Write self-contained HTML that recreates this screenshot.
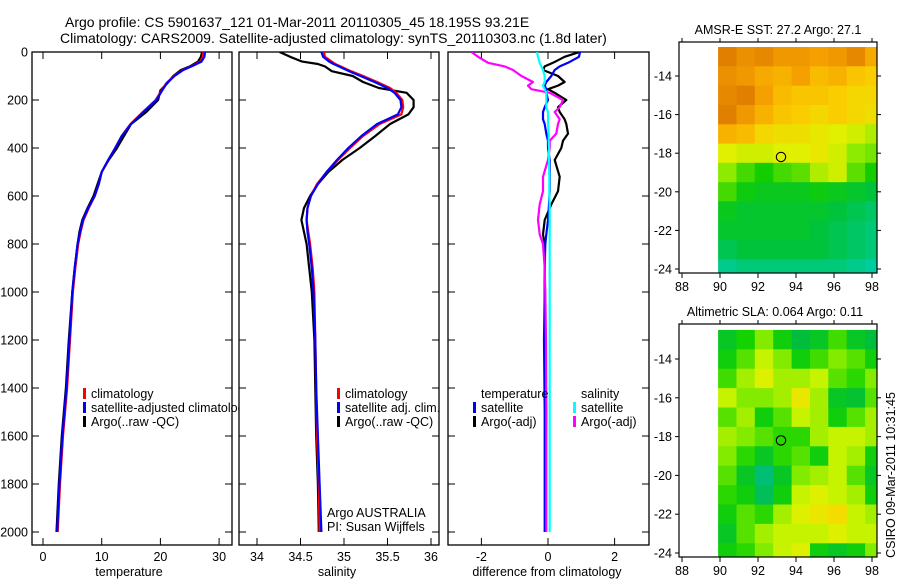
<!DOCTYPE html>
<html><head><meta charset="utf-8"><style>
html,body{margin:0;padding:0;background:#fff;}
svg{display:block;font-family:"Liberation Sans",sans-serif;}
</style></head><body>
<svg id="fig" width="900" height="580" viewBox="0 0 900 580" xmlns="http://www.w3.org/2000/svg">
<defs>
<clipPath id="c1"><rect x="32" y="52" width="207" height="493"/></clipPath>
<clipPath id="c2"><rect x="239" y="52" width="200" height="493"/></clipPath>
<clipPath id="c3"><rect x="448" y="52" width="201" height="493"/></clipPath>
<clipPath id="m1"><rect x="679" y="42" width="198" height="231"/></clipPath>
<clipPath id="m2"><rect x="679" y="324" width="198" height="233"/></clipPath>
</defs>
<text x="65" y="27" font-size="14">Argo profile: CS 5901637_121 01-Mar-2011 20110305_45 18.195S 93.21E</text>
<text x="60" y="43" font-size="14">Climatology: CARS2009. Satellite-adjusted climatology: synTS_20110303.nc (1.8d later)</text>
<text x="778" y="34" font-size="12.5" text-anchor="middle">AMSR-E SST: 27.2 Argo: 27.1</text>
<text x="775" y="316" font-size="12.5" text-anchor="middle">Altimetric SLA: 0.064 Argo: 0.11</text>
<text transform="translate(895,475) rotate(-90)" font-size="12.5" text-anchor="middle">CSIRO 09-Mar-2011 10:31:45</text>
<g id="layer"></g>
</svg>
<script>
// ---- profile data (pressure in dbar) ----
const tempP = [0,20,40,60,75,100,130,160,200,250,300,350,400,450,500,550,600,650,700,750,800,900,1000,1200,1400,1600,1800,2000];
const tempClim = [27.3,27.2,26.8,25.2,23.8,22.3,21.0,20.2,19.2,17.0,14.9,13.4,12.3,11.1,10.0,9.5,8.8,7.8,6.9,6.4,6.0,5.5,5.1,4.6,4.1,3.4,2.9,2.5];
const tempSat = [27.6,27.5,27.0,25.3,23.9,22.4,21.1,20.3,19.3,17.1,15.0,13.4,12.3,11.1,10.0,9.5,8.8,7.7,6.8,6.3,5.9,5.4,5.0,4.5,4.0,3.3,2.8,2.4];
const tempArgo = [27.1,26.9,26.4,25.0,23.5,22.2,21.2,20.0,19.6,17.6,15.0,13.8,12.6,11.2,10.0,9.3,8.6,7.6,6.7,6.2,5.9,5.4,5.0,4.4,3.9,3.2,2.7,2.3];
const salP = [0,20,40,50,60,80,100,125,150,170,200,230,260,300,350,400,450,500,550,600,650,700,750,800,900,1000,1200,1400,1600,1800,2000];
const salClim = [34.77,34.78,34.86,34.90,34.96,35.08,35.22,35.38,35.53,35.60,35.67,35.68,35.66,35.41,35.22,35.07,34.93,34.80,34.69,34.62,34.58,34.57,34.59,34.61,34.64,34.66,34.67,34.68,34.69,34.71,34.72];
const salSat = [34.74,34.76,34.83,34.88,34.94,35.06,35.19,35.35,35.50,35.58,35.65,35.66,35.62,35.38,35.20,35.05,34.92,34.80,34.70,34.62,34.58,34.57,34.58,34.60,34.63,34.65,34.67,34.68,34.70,34.72,34.74];
const salArgo = [34.26,34.38,34.52,34.70,34.78,34.86,35.10,35.22,35.40,35.72,35.80,35.80,35.74,35.53,35.36,35.18,34.98,34.82,34.70,34.61,34.54,34.51,34.54,34.57,34.60,34.63,34.66,34.67,34.68,34.70,34.71];
const difP = [0,20,45,60,75,100,125,140,155,170,200,230,250,280,300,340,370,400,450,520,580,635,700,760,800,900,1000,1200,1500,1800,2000];
const difTempSat = [0.96,0.93,0.60,0.35,0.20,0.10,-0.05,-0.10,-0.05,-0.05,0.0,-0.10,-0.15,-0.15,-0.10,-0.05,0.0,0.0,0.05,0.05,0.05,0.03,0.0,-0.05,-0.08,-0.10,-0.10,-0.12,-0.10,-0.10,-0.10];
const difTempArgo = [0.95,0.50,0.15,-0.10,-0.15,0.30,0.50,0.30,0.0,0.20,0.55,0.30,0.35,0.50,0.55,0.60,0.45,0.40,0.20,0.35,0.30,0.10,-0.10,-0.15,-0.10,-0.10,-0.10,-0.10,-0.05,-0.08,-0.08];
const difSalSat = [-0.33,-0.30,-0.25,-0.20,-0.15,-0.10,-0.10,-0.15,-0.10,-0.05,-0.05,-0.05,0.0,0.0,0.0,0.02,0.02,0.03,0.03,0.04,0.04,0.05,0.05,0.05,0.05,0.05,0.05,0.05,0.05,0.05,0.05];
const difSalArgo = [-2.30,-2.10,-1.80,-1.30,-1.05,-0.80,-0.45,-0.60,-0.50,0.05,0.45,0.35,0.20,0.35,0.30,0.25,0.05,0.05,0.0,-0.15,-0.15,-0.25,-0.30,-0.25,-0.15,-0.10,-0.08,-0.06,-0.05,-0.05,-0.05];
// ---- map data (9 cols lon 90.4..98.4, 12 rows lat -13..-24) ----
const sstGrid = [
[28.2,28.0,28.1,27.9,27.9,27.8,27.9,28.1,27.7],
[28.0,27.9,27.7,27.6,27.8,27.5,27.6,27.4,27.3],
[28.1,28.2,27.8,27.5,27.4,27.4,27.3,27.2,27.2],
[28.2,27.9,27.6,27.4,27.3,27.2,27.3,27.2,27.1],
[27.6,27.5,27.2,27.1,27.1,27.0,26.9,26.8,26.6],
[26.9,26.8,26.8,26.9,26.9,27.0,26.8,26.4,26.3],
[26.4,26.1,25.9,26.1,26.2,26.6,26.8,26.2,25.9],
[26.1,25.8,25.7,25.7,25.7,25.8,25.7,25.6,25.5],
[25.7,25.6,25.6,25.6,25.6,25.6,25.5,25.4,25.3],
[25.6,25.6,25.6,25.6,25.6,25.5,25.4,25.3,25.2],
[25.4,25.5,25.5,25.5,25.5,25.5,25.4,25.3,25.2],
[25.1,25.2,25.2,25.2,25.2,25.2,25.2,25.1,25.0]];
const slaGrid = [
[0.0,0.03,0.08,0.02,-0.02,0.0,0.05,0.0,-0.02],
[0.02,0.06,0.12,0.08,0.02,0.05,0.08,0.06,0.02],
[0.05,0.10,0.14,0.10,0.10,0.12,0.06,0.04,0.08],
[0.12,0.08,0.08,0.10,0.16,0.10,0.0,-0.01,0.06],
[0.06,0.10,0.02,0.06,0.12,0.10,0.02,0.06,0.10],
[0.10,0.08,0.06,0.04,0.04,0.10,0.12,0.12,0.10],
[0.08,0.04,0.0,0.04,0.06,0.02,0.12,0.10,0.02],
[0.06,0.0,-0.06,0.0,0.08,0.10,0.12,0.06,0.0],
[0.04,0.02,-0.04,0.02,0.12,0.14,0.12,0.10,0.02],
[0.02,0.06,0.04,0.10,0.14,0.16,0.18,0.12,0.10],
[0.0,0.06,0.10,0.12,0.12,0.12,0.14,0.12,0.12],
[0.02,0.04,0.08,0.12,0.14,0.02,0.0,0.02,0.08]];
const tempTicks = [0,10,20,30];
const salTicks = [34,34.5,35,35.5,36];
const difTicks = [-2,0,2];
const presTicks = [0,200,400,600,800,1000,1200,1400,1600,1800,2000];
const lonTicks = [88,90,92,94,96,98];
const latTicks = [-14,-16,-18,-20,-22,-24];
const argoLon = 93.21, argoLat = -18.195;

const NS='http://www.w3.org/2000/svg';
const L=document.getElementById('layer');
function mk(tag,attrs,parent){const e=document.createElementNS(NS,tag);for(const k in attrs)e.setAttribute(k,attrs[k]);(parent||L).appendChild(e);return e;}
const yP=p=>52+p*0.24;
const xT=v=>43+v*5.87;
const xS=v=>257+(v-34)*87;
const xD=v=>548+v*33.3;

function panel(name,x0,x1,ticks,xf,label,labelX,showY){
  const g=mk('g',{});
  
  
  mk('rect',{x:x0,y:52,width:x1-x0,height:493,fill:'none',stroke:'#000','stroke-width':1.3},g);
  ticks.forEach(t=>{const x=xf(t);
    mk('line',{x1:x,x2:x,y1:545,y2:538,stroke:'#000'},g);
    mk('line',{x1:x,x2:x,y1:52,y2:59,stroke:'#000'},g);
    const tl=mk('text',{x:x,y:561,'font-size':12.5,'text-anchor':'middle'},g);tl.textContent=t;
    
    
  });
  presTicks.forEach(p=>{const y=yP(p);
    mk('line',{x1:x0,x2:x0+7,y1:y,y2:y,stroke:'#000'},g);
    mk('line',{x1:x1,x2:x1-7,y1:y,y2:y,stroke:'#000'},g);
    if(showY){const tl=mk('text',{x:x0-4,y:y+4.5,'font-size':12.5,'text-anchor':'end'},g);tl.textContent=p;
      
      }
  });
  const al=mk('text',{x:labelX,y:576,'font-size':12.5,'text-anchor':'middle'},g);al.textContent=label;
  
  
  return g;
}
function line(name,P,V,xf,color,clip){
  const d=P.map((p,i)=>(i?'L':'M')+xf(V[i]).toFixed(1)+','+yP(p).toFixed(1)).join('');
  const e=mk('path',{d:d,fill:'none',stroke:color,'stroke-width':2.2,'stroke-linejoin':'round','clip-path':'url(#'+clip+')'});
  
  
}
function legend(items,x,y,clip){
  items.forEach((it,i)=>{
    if(it.c) mk('rect',{x:x,y:y+i*14-10,width:3,height:11,fill:it.c});
    const t=mk('text',{x:x+8,y:y+i*14,'font-size':12.5,'clip-path':clip?'url(#'+clip+')':''});t.textContent=it.t;
    
    
  });
}
// panel 1
panel('temperature-panel',32,232,tempTicks,xT,'temperature',129,true);
line('temp-argo-line',tempP,tempArgo,xT,'#000','c1');
line('temp-clim-line',tempP,tempClim,xT,'#f00','c1');
line('temp-sat-line',tempP,tempSat,xT,'#00f','c1');
legend([{c:'#f00',t:'climatology'},{c:'#00f',t:'satellite-adjusted climatology'},{c:'#000',t:'Argo(..raw -QC)'}],83,398,'c1');
// panel 2
mk('rect',{x:239,y:52,width:200,height:493,fill:'#fff'});
panel('salinity-panel',239,439,salTicks,xS,'salinity',337,false);
line('sal-argo-line',salP,salArgo,xS,'#000','c2');
line('sal-clim-line',salP,salClim,xS,'#f00','c2');
line('sal-sat-line',salP,salSat,xS,'#00f','c2');
legend([{c:'#f00',t:'climatology'},{c:'#00f',t:'satellite adj. clim.'},{c:'#000',t:'Argo(..raw -QC)'}],337,398);
{const t=mk('text',{x:327,y:517,'font-size':12.5});t.textContent='Argo AUSTRALIA';

const t2=mk('text',{x:327,y:531,'font-size':12.5});t2.textContent='PI: Susan Wijffels';
}
// panel 3
panel('difference-panel',448,649,difTicks,xD,'difference from climatology',547,false);
line('dif-temp-argo-line',difP,difTempArgo,xD,'#000','c3');
line('dif-temp-sat-line',difP,difTempSat,xD,'#00f','c3');
line('dif-sal-argo-line',difP,difSalArgo,xD,'#f0f','c3');
line('dif-sal-sat-line',difP,difSalSat,xD,'#0ff','c3');
legend([{t:'temperature'},{c:'#00f',t:'satellite'},{c:'#000',t:'Argo(-adj)'}],473,398);
legend([{t:'salinity'},{c:'#0ff',t:'satellite'},{c:'#f0f',t:'Argo(-adj)'}],573,398);

// maps
function lerpColor(stops,v){
  if(v<=stops[0][0])return stops[0][1];
  for(let i=1;i<stops.length;i++){if(v<=stops[i][0]){const a=stops[i-1],b=stops[i],f=(v-a[0])/(b[0]-a[0]);
    return a[1].map((c,j)=>Math.round(c+(b[1][j]-c)*f));}}
  return stops[stops.length-1][1];
}
const sstStops=[[25.0,[0,205,160]],[25.5,[0,195,60]],[25.9,[20,205,0]],[26.4,[140,235,0]],[26.9,[225,240,0]],[27.3,[250,205,0]],[27.8,[245,160,0]],[28.3,[220,120,0]]];
const slaStops=[[-0.07,[0,190,130]],[-0.02,[0,190,60]],[0.03,[20,210,0]],[0.08,[130,235,0]],[0.13,[215,245,0]],[0.18,[245,220,0]]];
function map(name,grid,stops,top,bottom,latA,yA,latB,yB,clip){
  const g=mk('g',{});
  
  
  const xL=lon=>682+(lon-88)*19;
  const yL=lat=>yA+(lat-latA)*(yB-yA)/(latB-latA);
  const cg=mk('g',{'clip-path':'url(#'+clip+')'},g);
  grid.forEach((row,r)=>row.forEach((v,c)=>{
    const lon0=89.9+c*0.967, lat0=-12.5-r;
    const col=lerpColor(stops,v);
    const cell=mk('rect',{x:xL(lon0).toFixed(1),y:yL(lat0).toFixed(1),width:(0.967*19+0.6).toFixed(1),height:(Math.abs(yL(lat0-1)-yL(lat0))+0.6).toFixed(1),fill:'rgb('+col.join(',')+')'},cg);
    
    
  }));
  mk('rect',{x:679,y:top,width:198,height:bottom-top,fill:'none',stroke:'#000','stroke-width':1.2},g);
  lonTicks.forEach(t=>{const x=xL(t);mk('line',{x1:x,x2:x,y1:bottom,y2:bottom+5,stroke:'#000'},g);mk('line',{x1:x,x2:x,y1:top,y2:top-4,stroke:'#000'},g);
    const tl=mk('text',{x:x,y:bottom+18,'font-size':12.5,'text-anchor':'middle'},g);tl.textContent=t;
    });
  latTicks.forEach(t=>{const y=yL(t);mk('line',{x1:679,x2:675,y1:y,y2:y,stroke:'#000'},g);mk('line',{x1:877,x2:881,y1:y,y2:y,stroke:'#000'},g);
    const tl=mk('text',{x:672,y:y+4.5,'font-size':12.5,'text-anchor':'end'},g);tl.textContent=t;
    });
  const m=mk('circle',{cx:xL(argoLon),cy:yL(argoLat),r:4.7,fill:'none',stroke:'#000','stroke-width':1.1},g);
  
  
}
map('sst-map',sstGrid,sstStops,42,273,-14,76,-24,269,'m1');
map('sla-map',slaGrid,slaStops,324,557,-14,359,-24,553,'m2');
</script>
</body></html>
